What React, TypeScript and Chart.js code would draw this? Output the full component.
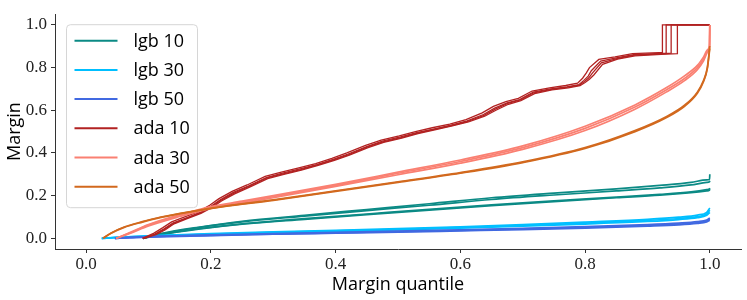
import React, { useEffect, useRef } from "react";
import { Chart, registerables } from "chart.js";

Chart.register(...registerables);

// ---------- data ----------
const SERIES_NAMES = ["lgb 10", "lgb 30", "lgb 50", "ada 10", "ada 30", "ada 50"];
const SERIES_COLORS = ["#0b8a85", "#00bfff", "#4169e1", "#b22222", "#fa8072", "#d2691e"];

const X_TICKS = [0, 0.2, 0.4, 0.6, 0.8, 1.0];
const Y_TICKS = [0, 0.2, 0.4, 0.6, 0.8, 1.0];

// lgb 10 (4 runs)
const LGB10_X = [0.091, 0.12, 0.18, 0.25, 0.35, 0.45, 0.55, 0.65, 0.75, 0.85, 0.92, 0.97, 0.995, 0.9995, 1.0];
const LGB10_R1 = [0, 0.022, 0.052, 0.08, 0.108, 0.135, 0.162, 0.19, 0.212, 0.232, 0.248, 0.262, 0.274, 0.276, 0.30];
const LGB10_R2 = [0, 0.021, 0.05, 0.077, 0.104, 0.13, 0.155, 0.182, 0.203, 0.222, 0.236, 0.25, 0.262, 0.265, 0.27];
const LGB10_R3 = [0, 0.018, 0.045, 0.068, 0.092, 0.114, 0.136, 0.157, 0.176, 0.193, 0.206, 0.218, 0.228, 0.232, 0.235];
const LGB10_R4 = [0, 0.017, 0.043, 0.066, 0.089, 0.111, 0.132, 0.153, 0.172, 0.19, 0.202, 0.214, 0.222, 0.226, 0.23];

// lgb 30 (3 runs)
const LGB30_X = [0.025, 0.05, 0.1, 0.2, 0.3, 0.4, 0.5, 0.6, 0.7, 0.8, 0.9, 0.95, 0.98, 0.995, 1.0];
const LGB30_R1 = [0, 0.005, 0.012, 0.022, 0.03, 0.037, 0.045, 0.054, 0.064, 0.076, 0.089, 0.099, 0.109, 0.122, 0.142];
const LGB30_R2 = [0, 0.004, 0.011, 0.02, 0.028, 0.035, 0.042, 0.051, 0.06, 0.071, 0.084, 0.093, 0.102, 0.114, 0.132];
const LGB30_R3 = [0, 0.004, 0.01, 0.019, 0.026, 0.033, 0.04, 0.048, 0.057, 0.067, 0.079, 0.088, 0.097, 0.108, 0.122];

// lgb 50 (3 runs)
const LGB50_X = [0.046, 0.07, 0.1, 0.2, 0.3, 0.4, 0.5, 0.6, 0.7, 0.8, 0.9, 0.95, 0.98, 0.995, 1.0];
const LGB50_R1 = [0, 0.004, 0.008, 0.016, 0.022, 0.028, 0.034, 0.04, 0.047, 0.055, 0.064, 0.071, 0.078, 0.086, 0.095];
const LGB50_R2 = [0, 0.003, 0.007, 0.014, 0.02, 0.026, 0.031, 0.037, 0.044, 0.051, 0.06, 0.067, 0.073, 0.081, 0.09];
const LGB50_R3 = [0, 0.003, 0.006, 0.013, 0.019, 0.024, 0.029, 0.035, 0.041, 0.048, 0.057, 0.063, 0.07, 0.077, 0.085];

// ada 10 (4 runs)
const ADA10_X1 = [0.091, 0.11, 0.125, 0.139, 0.16, 0.182, 0.2, 0.215, 0.236, 0.26, 0.289, 0.315, 0.343, 0.37, 0.396, 0.42, 0.45, 0.475, 0.504, 0.53, 0.557, 0.585, 0.611, 0.637, 0.655, 0.675, 0.695, 0.717, 0.745, 0.771, 0.79, 0.798, 0.805, 0.81, 0.825, 0.85, 0.878, 0.921, 0.93, 0.93, 1.0];
const ADA10_X2 = [0.093, 0.112, 0.127, 0.141, 0.162, 0.184, 0.202, 0.217, 0.238, 0.262, 0.291, 0.317, 0.345, 0.372, 0.398, 0.422, 0.452, 0.477, 0.506, 0.532, 0.559, 0.587, 0.613, 0.639, 0.657, 0.677, 0.697, 0.719, 0.747, 0.773, 0.792, 0.8, 0.807, 0.814, 0.828, 0.852, 0.88, 0.922, 0.948, 0.948, 1.0];
const ADA10_X3 = [0.09, 0.108, 0.123, 0.137, 0.158, 0.18, 0.198, 0.213, 0.234, 0.258, 0.287, 0.313, 0.341, 0.368, 0.394, 0.418, 0.448, 0.473, 0.502, 0.528, 0.555, 0.583, 0.609, 0.635, 0.653, 0.673, 0.693, 0.715, 0.743, 0.769, 0.788, 0.796, 0.802, 0.807, 0.822, 0.848, 0.876, 0.918, 0.924, 0.924, 1.0];
const ADA10_X4 = [0.092, 0.111, 0.126, 0.14, 0.161, 0.183, 0.201, 0.216, 0.237, 0.261, 0.29, 0.316, 0.344, 0.371, 0.397, 0.421, 0.451, 0.476, 0.505, 0.531, 0.558, 0.586, 0.612, 0.638, 0.656, 0.676, 0.696, 0.718, 0.746, 0.772, 0.791, 0.799, 0.806, 0.812, 0.826, 0.851, 0.879, 0.922, 0.938, 0.938, 1.0];
const ADA10_R1 = [0, 0.02, 0.045, 0.072, 0.095, 0.12, 0.15, 0.18, 0.215, 0.245, 0.285, 0.305, 0.325, 0.345, 0.37, 0.395, 0.43, 0.455, 0.475, 0.495, 0.512, 0.53, 0.55, 0.58, 0.61, 0.635, 0.65, 0.685, 0.7, 0.71, 0.72, 0.74, 0.76, 0.785, 0.83, 0.845, 0.86, 0.866, 0.868, 1.0, 1.0];
const ADA10_R2 = [0, 0.017, 0.04, 0.068, 0.092, 0.117, 0.145, 0.175, 0.208, 0.24, 0.28, 0.3, 0.32, 0.342, 0.365, 0.39, 0.425, 0.45, 0.47, 0.49, 0.508, 0.527, 0.545, 0.572, 0.6, 0.628, 0.645, 0.678, 0.695, 0.705, 0.715, 0.73, 0.745, 0.765, 0.815, 0.84, 0.855, 0.862, 0.865, 1.0, 1.0];
const ADA10_R3 = [0, 0.023, 0.05, 0.077, 0.1, 0.125, 0.155, 0.186, 0.22, 0.25, 0.29, 0.31, 0.33, 0.35, 0.375, 0.4, 0.435, 0.46, 0.48, 0.5, 0.518, 0.535, 0.556, 0.588, 0.618, 0.64, 0.656, 0.69, 0.705, 0.716, 0.727, 0.75, 0.775, 0.8, 0.838, 0.85, 0.865, 0.87, 0.871, 1.0, 1.0];
const ADA10_R4 = [0, 0.019, 0.043, 0.07, 0.094, 0.119, 0.148, 0.178, 0.212, 0.243, 0.283, 0.302, 0.322, 0.344, 0.368, 0.392, 0.428, 0.452, 0.472, 0.493, 0.51, 0.528, 0.548, 0.576, 0.605, 0.632, 0.648, 0.682, 0.698, 0.708, 0.718, 0.735, 0.752, 0.775, 0.822, 0.842, 0.858, 0.864, 0.867, 1.0, 1.0];

// ada 30 (3 runs)
const ADA30_X = [0.048, 0.07, 0.1, 0.15, 0.2, 0.25, 0.3, 0.4, 0.5, 0.6, 0.7, 0.8, 0.88, 0.93, 0.96, 0.98, 0.99, 0.997, 0.9995, 1.0];
const ADA30_R1 = [0, 0.025, 0.062, 0.107, 0.145, 0.17, 0.195, 0.248, 0.305, 0.36, 0.425, 0.515, 0.615, 0.695, 0.75, 0.8, 0.84, 0.88, 0.9, 1.0];
const ADA30_R2 = [0, 0.023, 0.058, 0.102, 0.14, 0.165, 0.19, 0.243, 0.298, 0.352, 0.417, 0.505, 0.605, 0.685, 0.74, 0.79, 0.832, 0.875, 0.9, 1.0];
const ADA30_R3 = [0, 0.027, 0.065, 0.11, 0.149, 0.174, 0.2, 0.253, 0.31, 0.367, 0.433, 0.525, 0.625, 0.705, 0.762, 0.81, 0.85, 0.885, 0.9, 1.0];

// ada 50 (2 runs)
const ADA50_X = [0.027, 0.04, 0.06, 0.09, 0.12, 0.17, 0.22, 0.3, 0.4, 0.5, 0.6, 0.7, 0.8, 0.88, 0.93, 0.96, 0.98, 0.99, 0.996, 1.0];
const ADA50_R1 = [0, 0.025, 0.052, 0.078, 0.1, 0.127, 0.15, 0.18, 0.223, 0.265, 0.308, 0.358, 0.425, 0.505, 0.57, 0.625, 0.685, 0.74, 0.8, 0.9];
const ADA50_R2 = [0, 0.024, 0.05, 0.076, 0.098, 0.125, 0.148, 0.178, 0.22, 0.262, 0.305, 0.355, 0.421, 0.5, 0.565, 0.62, 0.68, 0.735, 0.795, 0.89];

// [series index, xs, ys]
const RUNS: [number, number[], number[]][] = [
  [0, LGB10_X, LGB10_R1], [0, LGB10_X, LGB10_R2], [0, LGB10_X, LGB10_R3], [0, LGB10_X, LGB10_R4],
  [1, LGB30_X, LGB30_R1], [1, LGB30_X, LGB30_R2], [1, LGB30_X, LGB30_R3],
  [2, LGB50_X, LGB50_R1], [2, LGB50_X, LGB50_R2], [2, LGB50_X, LGB50_R3],
  [3, ADA10_X1, ADA10_R1], [3, ADA10_X2, ADA10_R2], [3, ADA10_X3, ADA10_R3], [3, ADA10_X4, ADA10_R4],
  [4, ADA30_X, ADA30_R1], [4, ADA30_X, ADA30_R2], [4, ADA30_X, ADA30_R3],
  [5, ADA50_X, ADA50_R1], [5, ADA50_X, ADA50_R2],
];

const SANS = "'Open Sans', 'Noto Sans', sans-serif";
const SERIF = "'Liberation Serif', 'DejaVu Serif', serif";

const legendPlugin = {
  id: "boxLegend",
  afterDraw(chart: any) {
    const ctx = chart.ctx as CanvasRenderingContext2D;
    const ca = chart.chartArea;
    const x0 = ca.left + 11.5;
    const y0 = ca.top + 10.5;
    const w = 131;
    const h = 183;
    const r = 4;
    ctx.save();
    ctx.beginPath();
    ctx.moveTo(x0 + r, y0);
    ctx.lineTo(x0 + w - r, y0);
    ctx.arcTo(x0 + w, y0, x0 + w, y0 + r, r);
    ctx.lineTo(x0 + w, y0 + h - r);
    ctx.arcTo(x0 + w, y0 + h, x0 + w - r, y0 + h, r);
    ctx.lineTo(x0 + r, y0 + h);
    ctx.arcTo(x0, y0 + h, x0, y0 + h - r, r);
    ctx.lineTo(x0, y0 + r);
    ctx.arcTo(x0, y0, x0 + r, y0, r);
    ctx.closePath();
    ctx.fillStyle = "rgba(255,255,255,0.85)";
    ctx.fill();
    ctx.strokeStyle = "#d6d6d6";
    ctx.lineWidth = 1;
    ctx.stroke();
    ctx.font = `18px ${SANS}`;
    ctx.textBaseline = "middle";
    ctx.textAlign = "left";
    SERIES_NAMES.forEach((name, i) => {
      const cy = y0 + 16 + i * 29.2;
      ctx.beginPath();
      ctx.moveTo(x0 + 8, cy);
      ctx.lineTo(x0 + 51, cy);
      ctx.strokeStyle = SERIES_COLORS[i];
      ctx.lineWidth = 2;
      ctx.stroke();
      ctx.fillStyle = "#000";
      ctx.fillText(name, x0 + 67, cy + 1);
    });
    ctx.restore();
  },
};

export default function App() {
  const ref = useRef<HTMLCanvasElement | null>(null);

  useEffect(() => {
    document.body.style.margin = "0";
    const canvas = ref.current;
    if (!canvas) return;

    const datasets = RUNS.map(([s, xs, ys], k) => ({
      label: SERIES_NAMES[s] + " #" + k,
      data: xs.map((x, i) => ({ x, y: ys[i] })),
      borderColor: SERIES_COLORS[s],
      backgroundColor: SERIES_COLORS[s],
      borderWidth: s === 3 ? 1.3 : 1.7,
      pointRadius: 0,
      tension: 0,
      cubicInterpolationMode: s === 3 ? "default" : "monotone",
      fill: false,
      order: 100 - s,
    }));

    const tickAxis = (ticks: number[]) => ({
      type: "linear" as const,
      min: -0.05,
      max: 1.05,
      afterBuildTicks: (scale: any) => {
        scale.ticks = ticks.map((v) => ({ value: v }));
      },
      ticks: {
        callback: (v: any) => Number(v).toFixed(1),
        font: { family: SERIF, size: 17 },
        color: "#222",
        autoSkip: false,
        maxRotation: 0,
      },
      grid: {
        display: true,
        drawOnChartArea: false,
        drawTicks: true,
        tickLength: 4,
        color: "#333",
        lineWidth: 1,
      },
      border: { display: true, color: "#333", width: 1 },
    });

    const xAxis: any = {
      ...tickAxis(X_TICKS),
      position: "bottom",
      title: {
        display: true,
        text: "Margin quantile",
        font: { family: SANS, size: 18 },
        color: "#000",
        padding: { top: 0, bottom: 4 },
      },
      afterFit: (scale: any) => {
        scale.height = 51;
      },
    };
    xAxis.ticks.padding = 1;

    const yAxis: any = {
      ...tickAxis(Y_TICKS),
      position: "left",
      title: {
        display: true,
        text: "Margin",
        font: { family: SANS, size: 18 },
        color: "#000",
        padding: { top: 4, bottom: 0 },
      },
      afterFit: (scale: any) => {
        scale.width = 55;
      },
    };
    yAxis.ticks.padding = 4;

    const chart = new Chart(canvas, {
      type: "line",
      data: { datasets: datasets as any },
      options: {
        animation: false,
        responsive: false,
        devicePixelRatio: 1,
        parsing: false as any,
        layout: { padding: { left: 0, right: 6, top: 6, bottom: 0 } },
        plugins: {
          legend: { display: false },
          tooltip: { enabled: false },
        },
        scales: { x: xAxis, y: yAxis },
      },
      plugins: [legendPlugin],
    });

    return () => chart.destroy();
  }, []);

  return (
    <div style={{ width: 747, height: 300, position: "relative", background: "#fff" }}>
      <canvas ref={ref} width={747} height={300} style={{ display: "block" }} />
    </div>
  );
}
